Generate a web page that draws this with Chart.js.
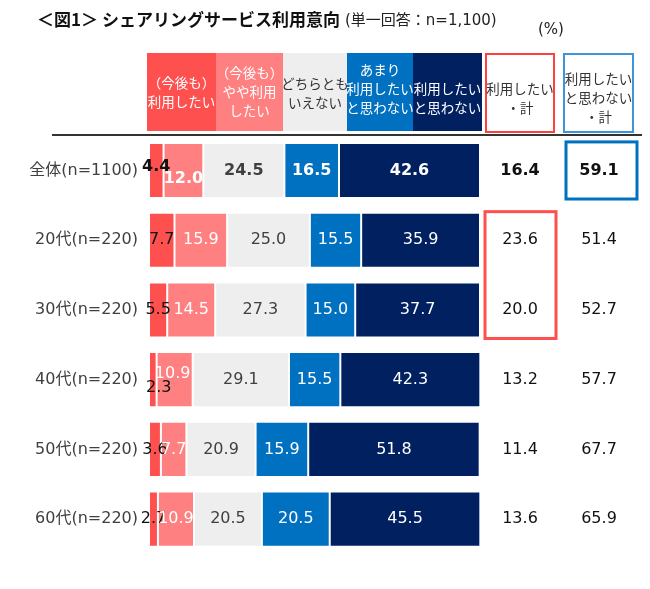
<!DOCTYPE html>
<html>
<head>
<meta charset="utf-8">
<script src="https://cdn.jsdelivr.net/npm/chart.js@4.4.1/dist/chart.umd.min.js"></script>
<style>
  body { margin: 0; background: #fff; }
  #wrap { width: 650px; height: 589px; }
</style>
</head>
<body>
<div id="wrap"><canvas id="chart" width="650" height="589"></canvas></div>
<script>
const categories = ["全体(n=1100)", "20代(n=220)", "30代(n=220)", "40代(n=220)", "50代(n=220)", "60代(n=220)"];
const seriesNames = ["（今後も）利用したい", "（今後も）やや利用したい", "どちらともいえない", "あまり利用したいと思わない", "利用したいと思わない"];
const useSoon = [4.4, 7.7, 5.5, 2.3, 3.6, 2.7];
const useMaybe = [12.0, 15.9, 14.5, 10.9, 7.7, 10.9];
const neutral = [24.5, 25.0, 27.3, 29.1, 20.9, 20.5];
const ratherNot = [16.5, 15.5, 15.0, 15.5, 15.9, 20.5];
const notUse = [42.6, 35.9, 37.7, 42.3, 51.8, 45.5];
const useTotal = [16.4, 23.6, 20.0, 13.2, 11.4, 13.6];
const notUseTotal = [59.1, 51.4, 52.7, 57.7, 67.7, 65.9];

const colors = ["#FF5050", "#FF8080", "#EEEEEE", "#0070C0", "#002060"];
const textColors = ["#111111", "#FFFFFF", "#404040", "#FFFFFF", "#FFFFFF"];

const NUM = '"DejaVu Sans", "Noto Sans CJK JP", sans-serif';
const JP = '"Noto Sans CJK JP", sans-serif';

// header boxes above the bars
const headers = [
  { x: 147, w: 69, fill: colors[0], color: "#fff", cy: 92, lines: ["（今後も）", "利用したい"] },
  { x: 216, w: 67, fill: colors[1], color: "#fff", cy: 92, lines: ["（今後も）", "やや利用", "したい"] },
  { x: 283, w: 64, fill: colors[2], color: "#333", cy: 93, lines: ["どちらとも", "いえない"] },
  { x: 347, w: 66, fill: colors[3], color: "#fff", cy: 89, lines: ["あまり", "利用したい", "と思わない"] },
  { x: 413, w: 69, fill: colors[4], color: "#fff", cy: 98, lines: ["利用したい", "と思わない"] },
  { x: 486, w: 68, stroke: "#FF4040", color: "#333", cy: 98, lines: ["利用したい", "・計"] },
  { x: 564, w: 69, stroke: "#3F95D8", color: "#333", cy: 98, lines: ["利用したい", "と思わない", "・計"] },
];

// small nudges for overlapping labels  [row-dataset]: [dx, dy]
const nudge = { "0-0": [0, -4], "0-1": [0, 8], "3-0": [6, 8], "3-1": [-2, -6] };

const decor = {
  id: "decor",
  beforeDraw(chart) {
    const ctx = chart.ctx;
    ctx.save();
    ctx.fillStyle = "#fff";
    ctx.fillRect(0, 0, chart.width, chart.height);
    // title
    ctx.textBaseline = "middle";
    ctx.textAlign = "left";
    ctx.fillStyle = "#111";
    ctx.font = "bold 17px " + JP;
    ctx.fillText("＜図1＞ シェアリングサービス利用意向", 37, 20);
    ctx.font = "15px " + NUM;
    ctx.fillStyle = "#222";
    ctx.fillText("(単一回答：n=1,100)", 345, 21);
    ctx.fillText("(%)", 538, 30);

    // headers
    headers.forEach(h => {
      if (h.fill) {
        ctx.fillStyle = h.fill;
        ctx.fillRect(h.x, 53, h.w, 78);
      } else {
        ctx.strokeStyle = h.stroke;
        ctx.lineWidth = 2;
        ctx.strokeRect(h.x, 54, h.w, 78);
      }
      ctx.fillStyle = h.color;
      ctx.font = "13.5px " + JP;
      ctx.textAlign = "center";
      const lh = 19;
      const y0 = h.cy - (h.lines.length - 1) * lh / 2;
      h.lines.forEach((t, i) => ctx.fillText(t, h.x + h.w / 2, y0 + i * lh));
    });

    // divider
    ctx.strokeStyle = "#333";
    ctx.lineWidth = 2;
    ctx.beginPath();
    ctx.moveTo(52, 135);
    ctx.lineTo(642, 135);
    ctx.stroke();
    ctx.restore();
  },
  afterDatasetsDraw(chart) {
    const ctx = chart.ctx;
    ctx.save();
    ctx.textAlign = "center";
    ctx.textBaseline = "middle";
    chart.data.datasets.forEach((ds, di) => {
      chart.getDatasetMeta(di).data.forEach((el, i) => {
        const n = nudge[i + "-" + di] || [0, 0];
        ctx.fillStyle = textColors[di];
        ctx.font = (i === 0 ? "bold " : "") + "16px " + NUM;
        ctx.fillText(ds.data[i].toFixed(1), (el.x + el.base) / 2 + n[0], el.y + n[1]);
      });
    });

    // totals columns
    const y = chart.scales.y;
    categories.forEach((c, i) => {
      const py = y.getPixelForValue(i);
      ctx.fillStyle = "#111";
      ctx.font = (i === 0 ? "bold " : "") + "16px " + NUM;
      ctx.fillText(useTotal[i].toFixed(1), 520, py);
      ctx.fillText(notUseTotal[i].toFixed(1), 599, py);
    });

    // highlight boxes
    const bars = chart.getDatasetMeta(0).data;
    const b0 = bars[0];
    ctx.lineWidth = 3;
    ctx.strokeStyle = "#0070C0";
    ctx.strokeRect(566, b0.y - b0.height / 2 - 1, 71, b0.height + 2);
    ctx.strokeStyle = "#FF5050";
    const top = bars[1].y - bars[1].height / 2 - 1;
    const bot = bars[2].y + bars[2].height / 2 + 1;
    ctx.strokeRect(485, top, 71, bot - top);
    ctx.restore();
  }
};

const seriesData = [useSoon, useMaybe, neutral, ratherNot, notUse];

new Chart(document.getElementById("chart"), {
  type: "bar",
  data: {
    labels: categories,
    datasets: seriesData.map((d, i) => ({
      label: seriesNames[i],
      data: d,
      backgroundColor: colors[i],
      borderColor: "rgba(255,255,255,0.4)",
      borderWidth: 1,
      borderSkipped: false,
      barPercentage: 0.79,
      categoryPercentage: 1,
    })),
  },
  options: {
    indexAxis: "y",
    responsive: false,
    animation: false,
    layout: { padding: { top: 135.6, bottom: 35, left: 0, right: 170 } },
    plugins: { legend: { display: false }, tooltip: { enabled: false } },
    scales: {
      x: { stacked: true, min: 0, max: 100, display: false },
      y: {
        stacked: true,
        grid: { display: false, drawTicks: false },
        border: { display: false },
        ticks: { color: "#404040", font: { size: 16, family: NUM }, padding: 11, autoSkip: false },
        afterFit(scale) { scale.width = 149; },
      },
    },
  },
  plugins: [decor],
});
</script>
</body>
</html>
